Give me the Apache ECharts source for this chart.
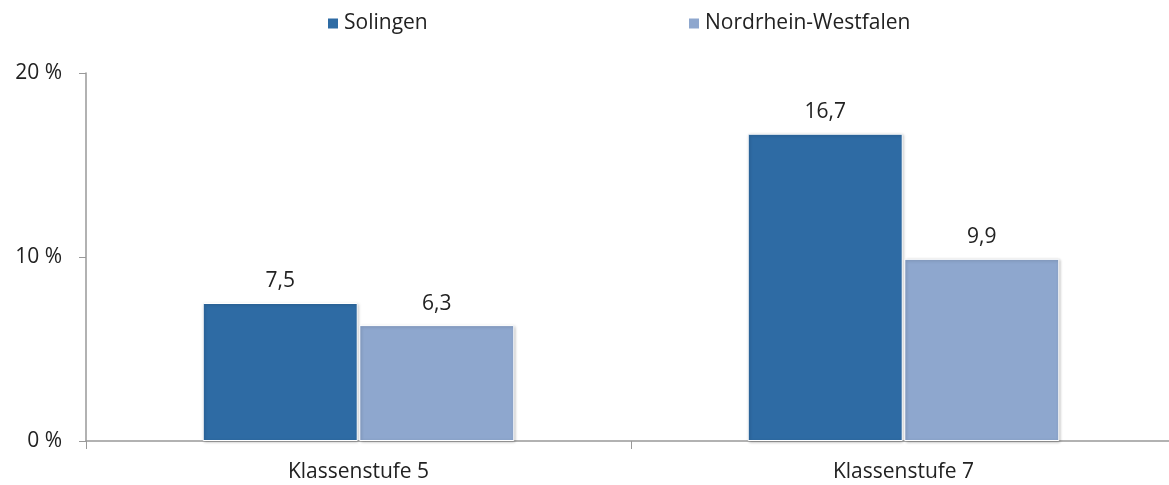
<!DOCTYPE html>
<html>
<head>
<meta charset="utf-8">
<script src="https://cdn.jsdelivr.net/npm/echarts@6/dist/echarts.min.js"></script>
<style>
  html, body { margin: 0; padding: 0; background: #fff; }
  #chart { width: 1169px; height: 485px; }
</style>
</head>
<body>
<div id="chart"></div>
<script>
const categories = ["Klassenstufe 5", "Klassenstufe 7"];
const solingen = [7.5, 16.7];
const nrw = [6.3, 9.9];
const yTicks = [0, 10, 20];

const FONT = "Open Sans";
const TEXT = "#222";
const SIZE = 21;

const chart = echarts.init(document.getElementById("chart"));

const fmt = (p) => String(p.value).replace(".", ",");

const barSeries = (name, data, color) => ({
  name: name,
  type: "bar",
  data: data,
  barWidth: 155,
  barGap: "1%",
  itemStyle: {
    color: color,
    borderColor: "#fff",
    borderWidth: 1,
    shadowColor: "rgba(0,0,0,0.25)",
    shadowBlur: 3,
    shadowOffsetX: 1,
    shadowOffsetY: 1,
  },
  label: {
    show: true,
    position: "top",
    distance: 11,
    formatter: fmt,
    color: TEXT,
    fontFamily: FONT,
    fontSize: SIZE,
  },
});

const legendText = { color: TEXT, fontFamily: FONT, fontSize: SIZE };

const option = {
  animation: false,
  textStyle: { fontFamily: FONT },
  legend: [
    {
      data: ["Solingen"],
      left: 326,
      top: 8,
      padding: [5, 0],
      itemWidth: 12,
      itemHeight: 12,
      icon: "rect",
      textStyle: legendText,
    },
    {
      data: ["Nordrhein-Westfalen"],
      left: 687,
      top: 8,
      padding: [5, 0],
      itemWidth: 12,
      itemHeight: 12,
      icon: "rect",
      textStyle: legendText,
    },
  ],
  grid: {
    left: 86,
    top: 73,
    width: 1090,
    height: 368,
    outerBoundsMode: "none",
    containLabel: false,
  },
  xAxis: {
    type: "category",
    data: categories,
    axisLine: { lineStyle: { color: "#999", width: 1.5 } },
    axisTick: { show: true, length: 8, lineStyle: { color: "#999" } },
    axisLabel: {
      color: TEXT,
      fontFamily: FONT,
      fontSize: SIZE,
      margin: 21,
    },
  },
  yAxis: {
    type: "value",
    min: yTicks[0],
    max: yTicks[yTicks.length - 1],
    interval: yTicks[1] - yTicks[0],
    axisLine: { show: true, lineStyle: { color: "#999", width: 1.5 } },
    axisTick: { show: true, length: 7, lineStyle: { color: "#999" } },
    splitLine: { show: false },
    axisLabel: {
      formatter: "{value} %",
      color: TEXT,
      fontFamily: FONT,
      fontSize: SIZE,
      margin: 24,
    },
  },
  series: [
    barSeries("Solingen", solingen, "#2E6BA4"),
    barSeries("Nordrhein-Westfalen", nrw, "#8EA7CE"),
  ],
};

chart.setOption(option);
window.addEventListener("resize", chart.resize);
</script>
</body>
</html>
